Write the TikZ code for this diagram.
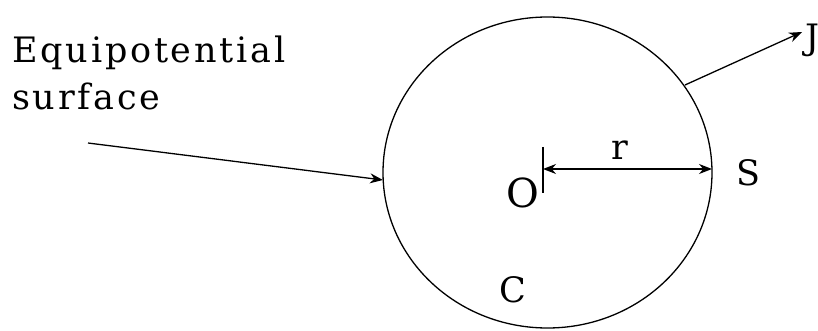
\documentclass[tikz,border=0pt]{standalone}
\usepackage{fontspec}
\setmainfont{DejaVu Serif}[LetterSpace=8]
\usetikzlibrary{arrows.meta,positioning}

\begin{document}
\begin{tikzpicture}[x=1pt, y=-1pt,
    lbl/.style={font=\fontsize{35}{47}\selectfont, inner sep=0pt},
    arr/.style={-{Stealth[length=13pt, width=10pt]}, line width=1.3pt},
    dbl/.style={{Stealth[length=13pt, width=10pt]}-{Stealth[length=13pt, width=10pt]}, line width=1.3pt}
  ]
    \useasboundingbox (0,0) rectangle (818,331);
    \clip (0,0) rectangle (818,331);
    % surface
    \draw[line width=1.3pt] (547.5,172.5) ellipse [x radius=164.5, y radius=155.5];
    \coordinate (left) at (383,180);
    \coordinate (right) at (712,169);
    \coordinate (inner) at (543,169);
    \coordinate (rim) at (685,85);
    \coordinate (tail) at (88,143);
    \coordinate (tip) at (802,32);
    \coordinate (tickT) at (543,147);
    \coordinate (tickB) at (543,193);

    \node[lbl, anchor=north west, align=left] (eq) at (12,36) {Equipotential\\surface};
    \node[lbl] (r) at (620,150) {r};
    \node[lbl] (s) at (748,173) {S};
    \node[lbl, font=\fontsize{40}{47}\selectfont] (o) at (523,193) {O};
    \node[lbl] (c) at (513,290) {C};
    \node[lbl, anchor=base west] (j) at (805,50) {J};

    \draw[arr] (tail) -- (left);
    \draw[arr] (rim) -- (tip);
    \draw[line width=1.3pt] (tickT) -- (tickB);
    \draw[dbl] (inner) -- (right);
\end{tikzpicture}
\end{document}
